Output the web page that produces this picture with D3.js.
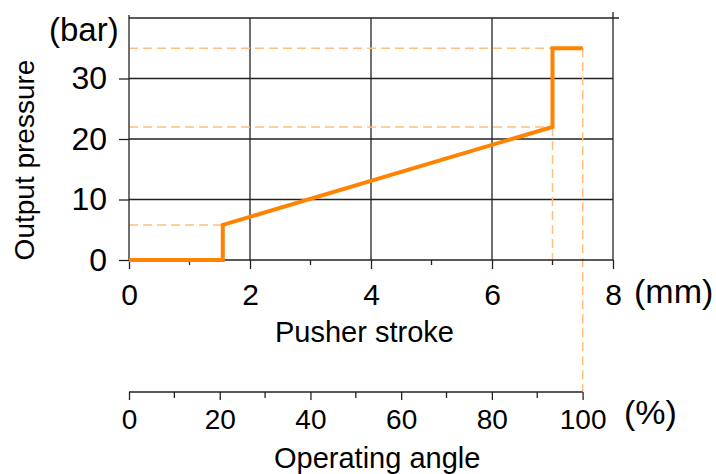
<!DOCTYPE html>
<html>
<head>
<meta charset="utf-8">
<script src="https://cdn.jsdelivr.net/npm/d3@7"></script>
<style>
  html, body { margin: 0; padding: 0; background: #fff; }
  svg { display: block; font-family: "Liberation Sans", Arial, sans-serif; }
</style>
</head>
<body>
<svg id="chart" width="716" height="474"></svg>
<script>
// ---- data ----
const strokeMM = [0, 1.55, 1.55, 7.0, 7.0, 7.5];
const pressureBar = [0, 0, 5.8, 22, 35, 35];
const xTicks = [0, 2, 4, 6, 8];
const xMinorTicks = [1, 3, 5, 7];
const yTicks = [0, 10, 20, 30];
const pctTicks = [0, 20, 40, 60, 80, 100];
const pctMinorTicks = [10, 30, 50, 70, 90];
const guideLevels = [5.8, 22, 35];       // horizontal dashed guides (bar)
const guideEnds = [1.55, 7.0, 7.5];      // where each guide ends (mm)

const svg = d3.select("#chart");
const x = d3.scaleLinear().domain([0, 8]).range([129, 613]);
const y = d3.scaleLinear().domain([0, 40]).range([260, 18]);
const pct = d3.scaleLinear().domain([0, 100]).range([129, 582.6]);
const pctY = 392;
const gridColor = "#222";
const orange = "#ff8200";
const lightOrange = "#ffbf80";
const ff = "Liberation Sans, Arial, sans-serif";

// grid: vertical
svg.append("g").selectAll("line").data(xTicks.filter(d => d > 0)).join("line")
  .attr("x1", d => x(d)).attr("x2", d => x(d))
  .attr("y1", d => d === 8 ? 12 : y(40)).attr("y2", y(0))
  .attr("stroke", gridColor).attr("stroke-width", 1.3);
// grid: horizontal
svg.append("g").selectAll("line").data([10, 20, 30, 40]).join("line")
  .attr("x1", x(0)).attr("x2", d => d === 40 ? x(8) + 6 : x(8))
  .attr("y1", d => y(d)).attr("y2", d => y(d))
  .attr("stroke", gridColor).attr("stroke-width", 1.3);

// dashed guides
const gGuide = svg.append("g").attr("stroke", lightOrange).attr("stroke-width", 1.5)
  .attr("stroke-dasharray", "9,5").attr("fill", "none");
guideLevels.forEach((lv, i) => {
  gGuide.append("line").attr("x1", x(0)).attr("x2", x(guideEnds[i]))
    .attr("y1", y(lv)).attr("y2", y(lv));
});
gGuide.append("line").attr("x1", x(7.0)).attr("x2", x(7.0)).attr("y1", y(22)).attr("y2", y(0));
gGuide.append("line").attr("x1", x(7.5)).attr("x2", x(7.5)).attr("y1", y(35)).attr("y2", pctY);

// x axis
const xAxis = d3.axisBottom(x).tickValues(xTicks).tickSize(9).tickPadding(15)
  .tickFormat(d3.format("d"));
const gx = svg.append("g").attr("transform", `translate(0,${y(0)})`).call(xAxis);
gx.select(".domain").remove();
gx.append("line").attr("x1", x(0)).attr("x2", x(8)).attr("stroke", gridColor).attr("stroke-width", 1.3);
gx.selectAll(".tick line").attr("stroke", gridColor).attr("stroke-width", 1.3);
gx.selectAll(".tick text").attr("font-size", 30).attr("fill", "#000").attr("font-family", ff);
gx.selectAll(".minor").data(xMinorTicks).join("line").attr("class", "minor")
  .attr("x1", d => x(d)).attr("x2", d => x(d)).attr("y1", 0).attr("y2", 5)
  .attr("stroke", gridColor).attr("stroke-width", 1.3);

// y axis
const yAxis = d3.axisLeft(y).tickValues(yTicks).tickSize(10).tickPadding(12)
  .tickFormat(d3.format("d"));
const gy = svg.append("g").attr("transform", `translate(${x(0)},0)`).call(yAxis);
gy.select(".domain").remove();
gy.append("line").attr("y1", 15).attr("y2", y(0)).attr("stroke", gridColor).attr("stroke-width", 1.3);
gy.selectAll(".tick line").attr("stroke", gridColor).attr("stroke-width", 1.3);
gy.selectAll(".tick text").attr("font-size", 32).attr("fill", "#000").attr("font-family", ff);

// percent axis
const pAxis = d3.axisBottom(pct).tickValues(pctTicks).tickSize(8).tickPadding(9)
  .tickFormat(d3.format("d"));
const gp = svg.append("g").attr("transform", `translate(0,${pctY})`).call(pAxis);
gp.select(".domain").remove();
gp.append("line").attr("x1", pct(0)).attr("x2", pct(100)).attr("stroke", gridColor).attr("stroke-width", 1.3);
gp.selectAll(".tick line").attr("stroke", gridColor).attr("stroke-width", 1.3);
gp.selectAll(".tick text").attr("font-size", 28).attr("fill", "#000").attr("font-family", ff);
gp.selectAll(".minor").data(pctMinorTicks).join("line").attr("class", "minor")
  .attr("x1", d => pct(d)).attr("x2", d => pct(d)).attr("y1", 0).attr("y2", 6)
  .attr("stroke", gridColor).attr("stroke-width", 1.3);

// data line
const line = d3.line().x((d, i) => x(strokeMM[i])).y(d => y(d)).curve(d3.curveLinear);
svg.append("path").datum(pressureBar).attr("d", line)
  .attr("fill", "none").attr("stroke", orange).attr("stroke-width", 4)
  .attr("stroke-linejoin", "miter");

// labels
svg.append("text").attr("x", 49).attr("y", 41).attr("font-size", 33).text("(bar)");
svg.append("text").attr("x", 634).attr("y", 303).attr("font-size", 34).text("(mm)");
svg.append("text").attr("x", 624).attr("y", 424).attr("font-size", 34).text("(%)");
svg.append("text").attr("x", 275).attr("y", 342).attr("font-size", 29).text("Pusher stroke");
svg.append("text").attr("x", 274).attr("y", 468).attr("font-size", 29).text("Operating angle");
svg.append("text").attr("transform", "translate(34,160) rotate(-90)")
  .attr("text-anchor", "middle").attr("font-size", 28).text("Output pressure");
</script>
</body>
</html>
